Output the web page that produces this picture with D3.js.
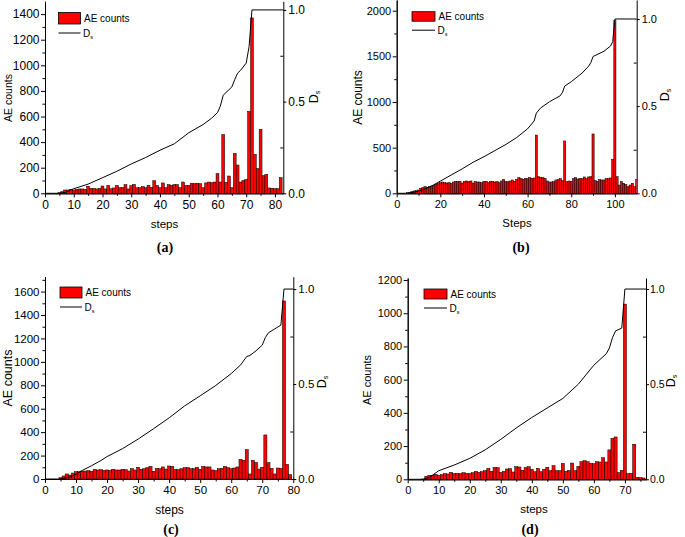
<!DOCTYPE html>
<html><head><meta charset="utf-8">
<script src="https://cdn.jsdelivr.net/npm/d3@7/dist/d3.min.js"></script>
<style>body{margin:0;background:#fff}svg{display:block}</style>
</head><body>
<svg id="chart" width="685" height="537"></svg>
<script>
// ---------------- DATA ----------------
// (a) AE counts from step 5 to 82
const firstStepA = 5;
const countsA = [5,13,26,26,31,26,31,34,34,31, 55,39,39,34,39,57,34,62,36,42, 62,44,44,68,34,60,70,44,44,52,
  44,62,47,99,62,44,81,44,68,62, 68,68,44,88,62,62,78,76,78,76, 44,81,88,83,88,154,88,458,86,135,
  44,312,221,88,101,109,640,1370,305,193, 500,138,148,42,39,36,36,122];
const dStepsA = [0,5,7,10,15,20,25,30,35,40,45,50,55,58,60,61,62,64,65,66,67,68,70,71,72,83];
const dValsA  = [0,0,0.005,0.025,0.05,0.085,0.12,0.16,0.195,0.235,0.27,0.33,0.375,0.41,0.44,0.475,0.535,0.565,0.58,0.62,0.655,0.67,0.71,0.8,1.0,1.0];

// (b) AE counts from step 5 to 110
const firstStepB = 5;
const countsB = [7,11,18,26,29,36,55,62,73,66, 73,80,88,99,109,117,124,117,113,117, 109,124,131,131,131,113,131,135,128,135,
  113,128,124,124,117,131,131,117,131,131, 124,128,117,135,153,128,128,135,146,131, 153,172,161,153,164,161,172,164,168,638,
  182,175,172,164,135,124,124,128,146,153, 161,139,573,128,135,131,161,172,157,164, 161,179,161,179,182,650,139,131,153,146,
  146,161,161,168,372,1890,182,91,128,110, 99,73,91,110,73,153];
const dStepsB = [0,5,10,15,20,25,30,35,40,45,50,55,60,63,64,66,70,75,76,77,80,85,88,89,90,95,98,99,100,110];
const dValsB  = [0,0,0.012,0.035,0.07,0.105,0.14,0.178,0.21,0.245,0.28,0.32,0.37,0.415,0.46,0.49,0.525,0.56,0.58,0.615,0.64,0.69,0.73,0.75,0.785,0.815,0.845,0.87,1.0,1.0];

// (c) AE counts from step 5 to 79
const firstStepC = 5;
const countsC = [11,26,43,34,51,63,63,68,68,71, 66,83,77,80,74,77,74,83,77,77, 83,80,68,88,77,100,83,88,97,108,
  66,91,88,103,85,111,108,83,80,88, 97,97,88,88,100,83,108,103,103,77, 71,88,91,108,97,88,94,103,168,160,
  251,43,160,142,85,100,376,140,91,43, 94,91,1520,125,37];
const dStepsC = [0,5,8,10,12,15,18,20,25,30,35,40,45,50,55,60,63,65,66,68,70,71,72,74,76,77,80];
const dValsC  = [0,0,0.01,0.025,0.045,0.07,0.097,0.118,0.16,0.21,0.265,0.322,0.385,0.438,0.492,0.555,0.6,0.645,0.65,0.675,0.705,0.745,0.77,0.79,0.81,1.0,1.0];

// (d) AE counts from step 5 to 76
const firstStepD = 5;
const countsD = [2,18,24,24,30,24,28,34,32,42, 34,36,34,40,36,34,40,48,42,46, 52,66,48,72,70,42,48,62,64,44,
  76,74,54,70,76,60,46,66,46,60, 72,52,82,52,52,96,48,54,98,52, 78,106,112,106,96,94,106,104,130,104,
  177,247,255,40,54,1055,34,36,211,12, 10,8];
const dStepsD = [0,5,7,10,15,20,25,30,35,40,45,50,55,60,64,65,66,67,69,70,77];
const dValsD  = [0,0,0.01,0.045,0.075,0.11,0.155,0.21,0.27,0.325,0.375,0.425,0.5,0.6,0.66,0.69,0.745,0.78,0.795,1.0,1.0];

// tick labels
const xTicksA = [0,10,20,30,40,50,60,70,80];
const xTicksB = [0,20,40,60,80,100];
const xTicksC = [0,10,20,30,40,50,60,70,80];
const xTicksD = [0,10,20,30,40,50,60,70];
const yTicksA = [0,200,400,600,800,1000,1200,1400];
const yTicksB = [0,500,1000,1500,2000];
const yTicksC = [0,200,400,600,800,1000,1200,1400,1600];
const yTicksD = [0,200,400,600,800,1000,1200];
const dTicks = [0,0.5,1.0];

const barName = "AE counts";
const lineName = "D";
const lineSub = "s";
const yTitleText = "AE counts";
const xTitles = ["steps","Steps","steps","steps"];
const panelLabels = ["(a)","(b)","(c)","(d)"];

// ---------------- LAYOUT ----------------
const FONT = '"Liberation Sans", Arial, sans-serif';
const panels = [
  {counts:countsA, first:firstStepA, dS:dStepsA, dV:dValsA, xt:xTicksA, xmStep:10, yt:yTicksA, ymStep:200,
   xMax:82.9, yMax:1500, dMax:1.047, L:45, R:283.3, T:1.3, B:193.3, tf:12, rtf:12, rpad:2,
   yT:{x:8,y:98,fs:10.5}, xT:{x:164.5,y:228,fs:11.5}, rT:{x:314,y:97}, lab:{x:165,y:252},
   leg:{x:58.5,y:12.5,w:22,h:11.5}},
  {counts:countsB, first:firstStepB, dS:dStepsB, dV:dValsB, xt:xTicksB, xmStep:20, yt:yTicksB, ymStep:500,
   xMax:110, yMax:2117, dMax:1.109, L:396.7, R:636.7, T:0, B:193.3, tf:11, rtf:11, rpad:2,
   yT:{x:358,y:97.5,fs:12}, xT:{x:517,y:227,fs:11.5}, rT:{x:665,y:95}, lab:{x:521,y:252},
   leg:{x:412,y:11.7,w:23,h:9.5}},
  {counts:countsC, first:firstStepC, dS:dStepsC, dV:dValsC, xt:xTicksC, xmStep:10, yt:yTicksC, ymStep:200,
   xMax:80, yMax:1727, dMax:1.065, L:45, R:293.3, T:276.7, B:479, tf:11.5, rtf:11.5, rpad:2,
   yT:{x:8,y:378,fs:12.5}, xT:{x:169.5,y:514,fs:12}, rT:{x:322,y:382}, lab:{x:171,y:534},
   leg:{x:60,y:287,w:22,h:11}},
  {counts:countsD, first:firstStepD, dS:dStepsD, dV:dValsD, xt:xTicksD, xmStep:10, yt:yTicksD, ymStep:200,
   xMax:76.8, yMax:1212, dMax:1.058, L:407.7, R:646, T:278, B:479.3, tf:11, rtf:10.5, rpad:1,
   yT:{x:367,y:380,fs:11}, xT:{x:534,y:513,fs:11.5}, rT:{x:671,y:381}, lab:{x:530,y:534},
   leg:{x:424,y:289,w:23,h:10}}
];

const svg = d3.select("#chart");

function styleAxis(g, fs){
  g.attr("font-family", FONT).attr("font-size", fs);
  g.selectAll("path.domain").attr("stroke","#000").attr("stroke-width",1);
  g.selectAll(".tick line").attr("stroke","#000").attr("stroke-width",1);
  g.selectAll(".tick text").attr("fill","#000");
}

panels.forEach((p, i) => {
  const g = svg.append("g");
  const x = d3.scaleLinear().domain([0, p.xMax]).range([p.L, p.R]);
  const y = d3.scaleLinear().domain([0, p.yMax]).range([p.B, p.T]);
  const y2 = d3.scaleLinear().domain([0, p.dMax]).range([p.B, p.T]);

  const clipId = "clip" + i;
  svg.append("clipPath").attr("id", clipId).append("rect")
    .attr("x", p.L).attr("y", p.T).attr("width", p.R - p.L).attr("height", p.B - p.T);

  const bars = p.counts.map((v, k) => ({s: p.first + k, v}));
  const bw = x(1) - x(0);
  g.append("g").attr("clip-path", `url(#${clipId})`)
    .selectAll("rect").data(bars).join("rect")
    .attr("x", d => x(d.s) - bw/2)
    .attr("width", bw)
    .attr("y", d => y(d.v))
    .attr("height", d => y(0) - y(d.v))
    .attr("fill", "#ff0000")
    .attr("stroke", "#000")
    .attr("stroke-width", 0.5);

  const pts = p.dS.map((s, k) => [s, p.dV[k]]);
  const line = d3.line().x(d => x(d[0])).y(d => y2(d[1]));
  g.append("path").datum(pts).attr("clip-path", `url(#${clipId})`)
    .attr("d", line).attr("fill","none").attr("stroke","#000").attr("stroke-width",1);

  const xMinor = d3.range(p.xmStep/2, p.xMax, p.xmStep);
  const yMinor = d3.range(p.ymStep/2, p.yMax, p.ymStep);

  const bx = g.append("g").attr("transform", `translate(0,${p.B})`)
    .call(d3.axisBottom(x).tickValues(p.xt).tickFormat(d3.format("d")).tickSize(4).tickSizeOuter(0).tickPadding(3));
  styleAxis(bx, p.tf);
  const bxm = g.append("g").attr("transform", `translate(0,${p.B})`)
    .call(d3.axisBottom(x).tickValues(xMinor).tickFormat("").tickSize(2.5).tickSizeOuter(0));
  styleAxis(bxm, p.tf);

  const ly = g.append("g").attr("transform", `translate(${p.L},0)`)
    .call(d3.axisLeft(y).tickValues(p.yt).tickFormat(d3.format("d")).tickSize(4).tickSizeOuter(0).tickPadding(1.5));
  styleAxis(ly, p.tf);
  const lym = g.append("g").attr("transform", `translate(${p.L},0)`)
    .call(d3.axisLeft(y).tickValues(yMinor).tickFormat("").tickSize(2.5).tickSizeOuter(0));
  styleAxis(lym, p.tf);

  const ry = g.append("g").attr("transform", `translate(${p.R},0)`)
    .call(d3.axisRight(y2).tickValues(dTicks).tickFormat(d3.format(".1f")).tickSize(3).tickSizeOuter(0).tickPadding(p.rpad));
  styleAxis(ry, p.rtf);
  const rym = g.append("g").attr("transform", `translate(${p.R},0)`)
    .call(d3.axisLeft(y2).tickValues([0.25,0.75]).tickFormat("").tickSize(3).tickSizeOuter(0));
  styleAxis(rym, p.rtf);
  rym.select("path.domain").remove();

  g.append("text").attr("transform", `translate(${p.yT.x},${p.yT.y}) rotate(-90)`)
    .attr("text-anchor","middle").attr("dominant-baseline","central")
    .attr("font-family", FONT).attr("font-size", p.yT.fs).text(yTitleText);
  g.append("text").attr("x", p.xT.x).attr("y", p.xT.y).attr("text-anchor","middle")
    .attr("font-family", FONT).attr("font-size", p.xT.fs).text(xTitles[i]);
  const rt = g.append("text").attr("transform", `translate(${p.rT.x},${p.rT.y}) rotate(-90)`)
    .attr("text-anchor","middle").attr("dominant-baseline","central")
    .attr("font-family", FONT).attr("font-size", 12.5);
  rt.append("tspan").text(lineName);
  rt.append("tspan").attr("font-size", 7).attr("dy", 3).text(lineSub);

  g.append("text").attr("x", p.lab.x).attr("y", p.lab.y).attr("text-anchor","middle")
    .attr("font-family", '"Liberation Serif", "Times New Roman", serif').attr("font-weight","bold")
    .attr("font-size", 14).text(panelLabels[i]);

  const lg = p.leg;
  g.append("rect").attr("x", lg.x).attr("y", lg.y).attr("width", lg.w).attr("height", lg.h)
    .attr("fill","#ff0000").attr("stroke","#000").attr("stroke-width",0.8);
  g.append("text").attr("x", lg.x + lg.w + 3.5).attr("y", lg.y + lg.h/2).attr("dominant-baseline","central")
    .attr("font-family", FONT).attr("font-size", 10).text(barName);
  const ly2 = lg.y + lg.h + 9;
  g.append("line").attr("x1", lg.x).attr("x2", lg.x + lg.w).attr("y1", ly2).attr("y2", ly2)
    .attr("stroke","#000").attr("stroke-width",1);
  const lt = g.append("text").attr("x", lg.x + lg.w + 2.5).attr("y", ly2 + 3.5)
    .attr("font-family", FONT).attr("font-size", 10);
  lt.append("tspan").text(lineName);
  lt.append("tspan").attr("font-size", 5.5).attr("dy", 2).text(lineSub);
});
</script>
</body></html>
